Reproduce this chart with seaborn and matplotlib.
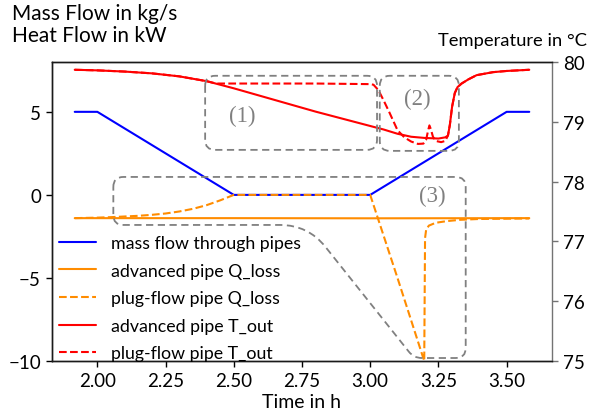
import matplotlib
matplotlib.use("Agg")
import matplotlib.pyplot as plt
import numpy as np
import seaborn as sns
from matplotlib.path import Path
from matplotlib.patches import PathPatch

# ---- data -------------------------------------------------------------
# mass flow through the pipes (kg/s)
mass_time = [1.917, 2.0, 2.5, 3.0, 3.5, 3.583]
mass_flow = [5.0, 5.0, 0.0, 0.0, 5.0, 5.0]

# heat loss of the advanced pipe model (kW)
adv_q_time = [1.917, 2.5, 3.0, 3.583]
adv_q_loss = [-1.40, -1.40, -1.41, -1.40]

# heat loss of the plug-flow pipe model (kW)
plug_q_time = [1.917, 2.0, 2.05, 2.1, 2.15, 2.2, 2.25, 2.3, 2.35, 2.4, 2.45, 2.5,
               3.0, 3.1, 3.198, 3.201, 3.205, 3.215, 3.24, 3.28, 3.33, 3.4, 3.583]
plug_q_loss = [-1.40, -1.37, -1.34, -1.30, -1.26, -1.20, -1.12, -1.00, -0.84, -0.62, -0.33, 0.0,
               0.0, -5.0, -10.0, -2.6, -2.1, -1.85, -1.68, -1.58, -1.50, -1.45, -1.42]

# outlet temperature of the advanced pipe model (degC)
adv_t_time = [1.917, 2.0, 2.1, 2.2, 2.3, 2.4, 2.5, 2.6, 2.7, 2.8, 2.9, 3.0, 3.05, 3.1,
              3.15, 3.2, 3.25, 3.275, 3.285, 3.292, 3.30, 3.31, 3.32, 3.335, 3.36, 3.39,
              3.45, 3.5, 3.583]
adv_t_out = [79.87, 79.86, 79.84, 79.81, 79.76, 79.68, 79.56, 79.43, 79.30, 79.17, 79.05,
             78.93, 78.87, 78.80, 78.75, 78.73, 78.72, 78.74, 78.77, 78.95, 79.25, 79.48,
             79.58, 79.64, 79.71, 79.78, 79.83, 79.85, 79.87]

# outlet temperature of the plug-flow pipe model (degC)
plug_t_time = [1.917, 2.0, 2.1, 2.2, 2.3, 2.4, 2.435, 2.6, 2.8, 3.0, 3.012, 3.03, 3.05,
               3.07, 3.10, 3.125, 3.15, 3.175, 3.195, 3.205, 3.212, 3.217, 3.222, 3.23,
               3.24, 3.26, 3.275, 3.285, 3.292, 3.30, 3.31, 3.32, 3.335, 3.36, 3.39,
               3.45, 3.5, 3.583]
plug_t_out = [79.87, 79.86, 79.84, 79.81, 79.76, 79.68, 79.64, 79.64, 79.64, 79.63, 79.62,
              79.53, 79.35, 79.16, 78.86, 78.74, 78.67, 78.63, 78.635, 78.70, 78.85, 78.94,
              78.88, 78.75, 78.68, 78.66, 78.68, 78.77, 78.95, 79.25, 79.48, 79.58, 79.64,
              79.71, 79.78, 79.83, 79.85, 79.87]

legend_labels = ["mass flow through pipes", "advanced pipe Q_loss", "plug-flow pipe Q_loss",
                 "advanced pipe T_out", "plug-flow pipe T_out"]

# highlighted regions, given as (time, left-axis value) corners
region_1 = [(2.395, 7.17), (3.025, 7.17), (3.025, 2.71), (2.395, 2.71)]
region_2 = [(3.035, 7.17), (3.325, 7.17), (3.325, 2.65), (3.035, 2.65)]
region_3 = [(2.0585, 1.08), (3.35, 1.08), (3.35, -9.82), (3.16, -9.82), (2.772, -1.81), (2.0585, -1.81)]
region_3_radius = [10, 10, 10, 8, 28, 10]
region_labels = ["(1)", "(2)", "(3)"]
region_label_pos = [(2.531, 4.76), (3.174, 5.78), (3.226, -0.06)]

# ---- figure -----------------------------------------------------------
sns.set_style("ticks")
plt.rcParams["font.family"] = ["Lato", "DejaVu Sans"]
for key in ("text.color", "axes.labelcolor", "xtick.color", "ytick.color", "axes.edgecolor"):
    plt.rcParams[key] = "black"

fig = plt.figure(figsize=(5.97, 4.14), dpi=100)
ax = fig.add_axes([52 / 597, 52 / 414, 500 / 597, 299 / 414])
ax2 = ax.twinx()

lw = 1.5
sns.lineplot(x=mass_time, y=mass_flow, ax=ax, color="blue", lw=lw, sort=False)
sns.lineplot(x=adv_q_time, y=adv_q_loss, ax=ax, color="darkorange", lw=lw, sort=False)
sns.lineplot(x=plug_q_time, y=plug_q_loss, ax=ax, color="darkorange", lw=lw, ls="--", sort=False)
sns.lineplot(x=adv_t_time, y=adv_t_out, ax=ax2, color="red", lw=lw, sort=False)
sns.lineplot(x=plug_t_time, y=plug_t_out, ax=ax2, color="red", lw=lw, ls="--", sort=False)

t_lo, t_hi = mass_time[0], mass_time[-1]
pad = 0.05 * (t_hi - t_lo)
ax.set_xlim(t_lo - pad, t_hi + pad)
ax.set_ylim(-10, 8)
ax2.set_ylim(75, 80)
ax.set_xticks([2.0, 2.25, 2.5, 2.75, 3.0, 3.25, 3.5])
ax.set_yticks([-10, -5, 0, 5])
ax2.set_yticks([75, 76, 77, 78, 79, 80])

for a in (ax, ax2):
    a.tick_params(labelsize=13.5, length=4, width=1, pad=4)
    for s in a.spines.values():
        s.set_linewidth(1.0)
        s.set_color("0.1")
ax.spines["right"].set_visible(False)
ax2.spines["right"].set_color("0.45")
ax2.tick_params(axis="y", color="0.45")

ax.set_xlabel("Time in h", fontsize=14, labelpad=3)
ax.set_ylabel("")
ax2.set_ylabel("")
fig.text(12 / 597, 1 - 42 / 414, "Mass Flow in kg/s\nHeat Flow in kW", ha="left",
         va="baseline", fontsize=15, linespacing=1.12, multialignment="left")
fig.text(587 / 597, 1 - 46 / 414, "Temperature in °C", ha="right", va="baseline", fontsize=13.2)


def rounded_outline(points, radii):
    """Closed outline through the given display points with rounded corners."""
    pts = np.asarray(points, dtype=float)
    n = len(pts)
    verts, codes = [], []
    for i in range(n):
        p, prev, nxt = pts[i], pts[i - 1], pts[(i + 1) % n]
        d_in = (prev - p) / np.linalg.norm(prev - p)
        d_out = (nxt - p) / np.linalg.norm(nxt - p)
        a_pt = p + d_in * radii[i]
        b_pt = p + d_out * radii[i]
        verts.append(a_pt)
        codes.append(Path.MOVETO if i == 0 else Path.LINETO)
        verts += [p, b_pt]
        codes += [Path.CURVE3, Path.CURVE3]
    verts.append(verts[0])
    codes.append(Path.CLOSEPOLY)
    return np.array(verts), codes


def draw_region(points, radii):
    disp = ax.transData.transform(points)
    verts, codes = rounded_outline(disp, radii)
    verts = ax.transAxes.inverted().transform(verts)
    patch = PathPatch(Path(verts, codes), transform=ax.transAxes, fill=False,
                      ec="0.5", lw=1.3, ls=(0, (4, 2.5)), zorder=5, clip_on=False)
    ax2.add_patch(patch)


draw_region(region_1, [10] * 4)
draw_region(region_2, [10] * 4)
draw_region(region_3, region_3_radius)

for lab, (tx, ty) in zip(region_labels, region_label_pos):
    ax.text(tx, ty, lab, ha="center", va="center", fontsize=16.5, color="0.5",
            family="Liberation Serif", zorder=6)

handles = ax.get_lines() + ax2.get_lines()
ax2.legend(handles, legend_labels, loc="lower left", bbox_to_anchor=(0.0, -0.025),
           frameon=False, fontsize=12.8, borderaxespad=0, handlelength=2.1,
           labelspacing=0.65, handletextpad=0.8)

fig.savefig("out.png", dpi=100)
